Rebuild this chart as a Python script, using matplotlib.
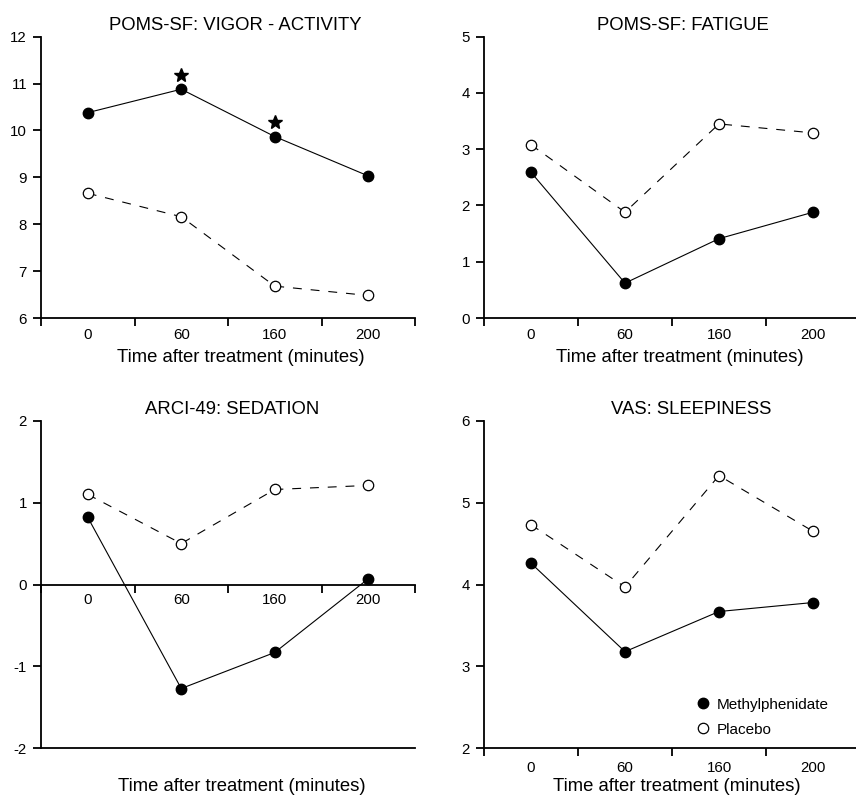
import matplotlib
matplotlib.use('Agg')
import matplotlib.pyplot as plt
from matplotlib.lines import Line2D
from matplotlib.ticker import FixedLocator, FixedFormatter, NullFormatter

plt.rcParams['font.family'] = ['Liberation Sans', 'DejaVu Sans']
plt.rcParams['axes.unicode_minus'] = False

# ---- data ----
time_labels = ['0', '60', '160', '200']

vigor_mph = [10.38, 10.88, 9.87, 9.03]
vigor_pbo = [8.66, 8.16, 6.68, 6.48]
vigor_sig_idx = [1, 2]
vigor_sig_y = [11.18, 10.17]

fatigue_mph = [2.59, 0.62, 1.41, 1.88]
fatigue_pbo = [3.08, 1.88, 3.45, 3.29]

sedation_mph = [0.82, -1.27, -0.83, 0.07]
sedation_pbo = [1.10, 0.50, 1.16, 1.21]

sleep_mph = [4.26, 3.18, 3.67, 3.78]
sleep_pbo = [4.73, 3.97, 5.33, 4.65]

titles = ['POMS-SF: VIGOR - ACTIVITY', 'POMS-SF: FATIGUE',
          'ARCI-49: SEDATION', 'VAS: SLEEPINESS']
ylims = [(6, 12), (0, 5), (-2, 2), (2, 6)]
xlabel = 'Time after treatment (minutes)'
legend_labels = ['Methylphenidate', 'Placebo']

W, H = 856, 795
fig = plt.figure(figsize=(W / 100, H / 100), dpi=100)

def px_rect(l, r, t, b):
    return [l / W, (H - b) / H, (r - l) / W, (b - t) / H]

rects = [px_rect(41, 415, 36.7, 318), px_rect(484, 860, 36.7, 318),
         px_rect(41, 415, 420.7, 748.3), px_rect(484, 860, 420.7, 748.3)]
series = [(vigor_mph, vigor_pbo), (fatigue_mph, fatigue_pbo),
          (sedation_mph, sedation_pbo), (sleep_mph, sleep_pbo)]
title_x = [0.52, 0.53, 0.51, 0.55]
xlabel_x = [0.535, 0.52, 0.537, 0.513]
xlabel_y = [-0.142, -0.142, -0.118, -0.118]
xtick_pad = [7, 7, 6, 9]

xpos = [i + 0.5 for i in range(len(time_labels))]
spine_lw = 1.3
line_lw = 0.8

for k, ax in enumerate([fig.add_axes(r) for r in rects]):
    mph, pbo = series[k]
    ax.plot(xpos, pbo, color='black', lw=line_lw, ls=(0, (8, 8)),
            marker='o', ms=7.5, mfc='white', mec='black', mew=0.9, zorder=3)
    ax.plot(xpos, mph, color='black', lw=line_lw, ls='-',
            marker='o', ms=7.5, mfc='black', mec='black', zorder=4)
    if k == 0:
        ax.plot([xpos[i] for i in vigor_sig_idx], vigor_sig_y, ls='none',
                marker='*', ms=10, color='black')
    ax.set_xlim(0, 4)
    y0, y1 = ylims[k]
    ax.set_ylim(y0, y1)
    ax.set_yticks(range(y0, y1 + 1))
    ax.set_yticklabels([str(v) for v in range(y0, y1 + 1)])
    ax.spines['top'].set_visible(False)
    ax.spines['right'].set_visible(False)
    for s in ('left', 'bottom'):
        ax.spines[s].set_linewidth(spine_lw)
    ax.xaxis.set_major_locator(FixedLocator([0, 1, 2, 3, 4]))
    ax.xaxis.set_major_formatter(NullFormatter())
    ax.xaxis.set_minor_locator(FixedLocator(xpos))
    ax.xaxis.set_minor_formatter(FixedFormatter(time_labels))
    ax.tick_params(axis='x', which='major', direction='out', length=6,
                   width=spine_lw)
    ax.tick_params(axis='x', which='minor', length=0, pad=xtick_pad[k],
                   labelsize=10.8)
    ax.tick_params(axis='y', direction='out', length=6, width=spine_lw,
                   pad=4, labelsize=10.8)
    if k == 2:
        ax.spines['bottom'].set_position(('data', 0))
        ax.axhline(-2, color='black', lw=spine_lw, clip_on=False)
    ax.set_title(titles[k], fontsize=13.3, pad=5, x=title_x[k])
    ax.set_xlabel(xlabel, fontsize=13.3, va='center')
    ax.xaxis.set_label_coords(xlabel_x[k], xlabel_y[k])
    if k == 3:
        handles = [Line2D([], [], ls='none', marker='o', ms=7.5, mfc='black',
                          mec='black'),
                   Line2D([], [], ls='none', marker='o', ms=7.5, mfc='white',
                          mec='black', mew=0.9)]
        ax.legend(handles, legend_labels, loc='center left',
                  bbox_to_anchor=(0.545, 0.095), frameon=False,
                  fontsize=11, handlelength=0.8, handletextpad=0.5,
                  labelspacing=0.72, borderpad=0)

fig.savefig('out.png', dpi=100)
